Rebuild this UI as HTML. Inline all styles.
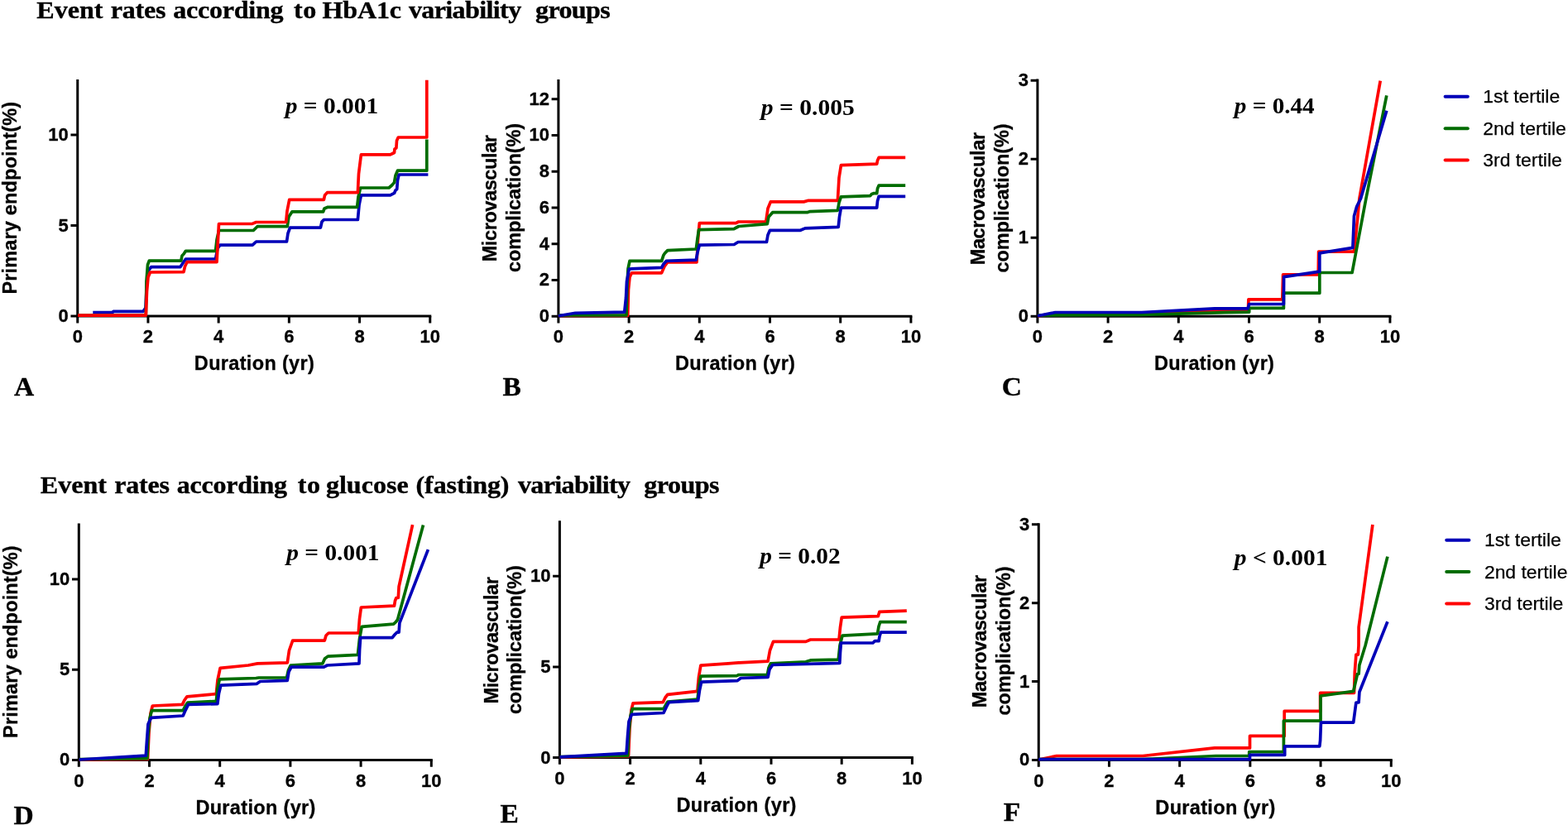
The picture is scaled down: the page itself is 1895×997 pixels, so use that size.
<!DOCTYPE html>
<html lang="en"><head><meta charset="utf-8"><title>Event rates according to variability groups</title>
<style>html,body{margin:0;padding:0;background:#fff;}body{width:1895px;height:997px;overflow:hidden;}svg{display:block;}</style>
</head><body>
<svg width="1895" height="997" viewBox="0 0 1895 997">
<rect width="1895" height="997" fill="#fff"/>
<text transform="scale(1.06,1)" y="21.5" font-family='"Liberation Serif", "Times New Roman", Times, serif' font-weight="700" font-size="30.3" fill="#000" stroke="#000" stroke-width="0.35"><tspan x="41.86" letter-spacing="-0.024">Event</tspan> <tspan x="126.23" letter-spacing="-0.271">rates</tspan> <tspan x="197.40" letter-spacing="-0.258">according</tspan> <tspan x="334.97" letter-spacing="0.557">to</tspan> <tspan x="367.52" letter-spacing="-0.221">HbA1c</tspan> <tspan x="465.94" letter-spacing="-0.604">variability</tspan> <tspan x="610.38" letter-spacing="-0.620">groups</tspan></text>
<text transform="scale(1.06,1)" y="595.8" font-family='"Liberation Serif", "Times New Roman", Times, serif' font-weight="700" font-size="30.3" fill="#000" stroke="#000" stroke-width="0.35"><tspan x="46.10" letter-spacing="-0.024">Event</tspan> <tspan x="130.48" letter-spacing="-0.271">rates</tspan> <tspan x="201.64" letter-spacing="-0.258">according</tspan> <tspan x="339.31" letter-spacing="0.604">to</tspan> <tspan x="371.61" letter-spacing="-0.002">glucose</tspan> <tspan x="474.13" letter-spacing="-0.149">(fasting)</tspan> <tspan x="590.47" letter-spacing="-0.623">variability</tspan> <tspan x="734.25" letter-spacing="-0.525">groups</tspan></text>
<g id="panel-A">
<path d="M93.75,96.00 L93.75,382.1 L521.25,382.1" fill="none" stroke="#000" stroke-width="3.0" stroke-linejoin="miter"/>
<path d="M85.45,382.10 L93.75,382.10 M85.45,272.60 L93.75,272.60 M85.45,163.10 L93.75,163.10 M93.75,382.1 L93.75,390.40 M178.95,382.1 L178.95,390.40 M264.15,382.1 L264.15,390.40 M349.35,382.1 L349.35,390.40 M434.55,382.1 L434.55,390.40 M519.75,382.1 L519.75,390.40" fill="none" stroke="#000" stroke-width="3.0"/>
<g font-family='"Liberation Sans", Arial, Helvetica, sans-serif' font-weight="700" font-size="22" fill="#000" stroke="#000" stroke-width="0.3">
<text x="82.75" y="389.10" text-anchor="end">0</text>
<text x="82.75" y="279.60" text-anchor="end">5</text>
<text x="82.75" y="170.10" text-anchor="end">10</text>
<text x="93.75" y="414.20" text-anchor="middle">0</text>
<text x="178.95" y="414.20" text-anchor="middle">2</text>
<text x="264.15" y="414.20" text-anchor="middle">4</text>
<text x="349.35" y="414.20" text-anchor="middle">6</text>
<text x="434.55" y="414.20" text-anchor="middle">8</text>
<text x="519.75" y="414.20" text-anchor="middle">10</text>
</g>
<g font-family='"Liberation Sans", Arial, Helvetica, sans-serif' font-weight="700" font-size="23.5" fill="#000" stroke="#000" stroke-width="0.3">
<text x="234.85" y="447.20" letter-spacing="0.329">Duration (yr)</text>
<text transform="translate(19.90,239.05) rotate(-90)"><tspan x="-116.50" y="0.00" letter-spacing="0.153">Primary endpoint(%)</tspan></text>
</g>
<g fill="none" stroke-linejoin="round" stroke-linecap="butt" stroke-width="3.7">
<path d="M112.3,377.5 L136.2,377.5 L137,376.4 L173,376.4 L176,372 L177.5,340 L179.5,327 L182.7,322.6 L218,322.6 L221,318 L224.4,313 L260.5,313 L263,300 L266,296.2 L305.2,296.1 L309.6,292 L346.5,292 L348,282 L350.5,275.1 L387.4,275.1 L389,268 L391.4,265.5 L432.4,265.5 L434,248 L436.4,235.8 L471.7,235.8 L476.5,233.4 L478,230 L479.7,228.6 L480.5,218 L482.1,211 L517.4,211" stroke="#0000b8"/>
<path d="M94,381 L176.3,381 L177,340 L178.5,320 L180.3,315.1 L218.8,315.1 L220,309 L222,307 L224.4,303.4 L260.5,303.4 L262,290 L264.5,278.5 L306.2,278.5 L311,273.7 L347.3,273.6 L349,262 L352.9,255.9 L390.6,255.9 L392,252 L396.3,250.3 L431.6,250.3 L433,238 L435.6,227 L470,227 L473.5,224 L476.5,220.6 L478,212 L480.5,206.2 L515.8,206.2 L515.8,168.4" stroke="#006c00"/>
<path d="M94,381.2 L176.3,381.2 L177.5,352 L179,335 L181.5,329 L222,328.7 L223.5,322 L226,316.7 L262,316.7 L263.2,295 L264.5,270.5 L305,270.4 L309.5,268.5 L345.7,268.5 L347,255 L349.7,241.4 L391.4,241.4 L392.5,236 L395.5,232.6 L432.4,232.6 L433.5,210 L436.4,186.9 L471.7,186.9 L476.5,184.5 L477,180 L478.9,178.9 L479.5,170 L481.3,166 L515.8,166 L515.8,96.8" stroke="#ff0000"/>
</g>
</g>
<g id="panel-B">
<path d="M674.9,96.00 L674.9,382.2 L1102.40,382.2" fill="none" stroke="#000" stroke-width="3.0" stroke-linejoin="miter"/>
<path d="M666.60,382.20 L674.9,382.20 M666.60,338.44 L674.9,338.44 M666.60,294.68 L674.9,294.68 M666.60,250.92 L674.9,250.92 M666.60,207.16 L674.9,207.16 M666.60,163.40 L674.9,163.40 M666.60,119.64 L674.9,119.64 M674.90,382.2 L674.90,390.50 M760.10,382.2 L760.10,390.50 M845.30,382.2 L845.30,390.50 M930.50,382.2 L930.50,390.50 M1015.70,382.2 L1015.70,390.50 M1100.90,382.2 L1100.90,390.50" fill="none" stroke="#000" stroke-width="3.0"/>
<g font-family='"Liberation Sans", Arial, Helvetica, sans-serif' font-weight="700" font-size="22" fill="#000" stroke="#000" stroke-width="0.3">
<text x="663.90" y="389.20" text-anchor="end">0</text>
<text x="663.90" y="345.44" text-anchor="end">2</text>
<text x="663.90" y="301.68" text-anchor="end">4</text>
<text x="663.90" y="257.92" text-anchor="end">6</text>
<text x="663.90" y="214.16" text-anchor="end">8</text>
<text x="663.90" y="170.40" text-anchor="end">10</text>
<text x="663.90" y="126.64" text-anchor="end">12</text>
<text x="674.90" y="414.30" text-anchor="middle">0</text>
<text x="760.10" y="414.30" text-anchor="middle">2</text>
<text x="845.30" y="414.30" text-anchor="middle">4</text>
<text x="930.50" y="414.30" text-anchor="middle">6</text>
<text x="1015.70" y="414.30" text-anchor="middle">8</text>
<text x="1100.90" y="414.30" text-anchor="middle">10</text>
</g>
<g font-family='"Liberation Sans", Arial, Helvetica, sans-serif' font-weight="700" font-size="23.5" fill="#000" stroke="#000" stroke-width="0.3">
<text x="816.00" y="447.30" letter-spacing="0.329">Duration (yr)</text>
<text transform="translate(600.30,239.10) rotate(-90)"><tspan x="-77.25" y="0.00" letter-spacing="-0.396">Microvascular</tspan> <tspan x="-89.90" y="28.70" letter-spacing="-0.104">complication(%)</tspan></text>
</g>
<g fill="none" stroke-linejoin="round" stroke-linecap="butt" stroke-width="3.7">
<path d="M674.8,381.5 L758.7,381.5 L759.5,350 L761,335 L763.5,329.8 L799.6,329.8 L803,322 L806.8,317 L842,317 L843.5,290 L845.3,269.7 L889.4,269.7 L892.6,268 L925.7,267.9 L928,252 L931.3,243.9 L971.4,243.9 L977.1,242.3 L1012.4,242.3 L1014,215 L1016.4,199.7 L1059.7,198.1 L1060.5,194 L1062.1,190.4 L1094.2,190.4" stroke="#ff0000"/>
<path d="M674.8,381 L757,381 L758,345 L759,325 L761,315.4 L799.6,315.4 L802,308.2 L803.5,306 L806.8,302.6 L841.3,301 L843,288 L844.5,277.7 L887,276.6 L890,275 L892.8,273.5 L927.3,270.6 L929,262 L933.7,256.7 L975.5,256.7 L979,255.6 L1012.4,254.3 L1014,245 L1016.4,237.9 L1051.7,236.6 L1053.5,234.5 L1055.7,233.7 L1059.7,233.7 L1060.5,228 L1062.1,224.1 L1094.2,224.1" stroke="#006c00"/>
<path d="M674.8,381.8 L695.3,378.3 L754.7,377.2 L756.5,360 L757.5,340 L760.3,325 L799.6,323.4 L802,319 L805.2,315.4 L841.3,314.1 L843,305 L845.3,296.2 L887.2,295.5 L892,292.5 L926.5,292.5 L928,284 L930.5,278.3 L967.4,278.3 L973,275.9 L1013.2,274.3 L1014.5,262 L1016.4,251.1 L1059.7,251.1 L1060.5,243 L1062.1,237.4 L1094.2,237.4" stroke="#0000b8"/>
</g>
</g>
<g id="panel-C">
<path d="M1253.9,95.50 L1253.9,382.15 L1681.40,382.15" fill="none" stroke="#000" stroke-width="3.0" stroke-linejoin="miter"/>
<path d="M1245.60,382.15 L1253.9,382.15 M1245.60,287.22 L1253.9,287.22 M1245.60,192.29 L1253.9,192.29 M1245.60,97.36 L1253.9,97.36 M1253.90,382.15 L1253.90,390.45 M1339.10,382.15 L1339.10,390.45 M1424.30,382.15 L1424.30,390.45 M1509.50,382.15 L1509.50,390.45 M1594.70,382.15 L1594.70,390.45 M1679.90,382.15 L1679.90,390.45" fill="none" stroke="#000" stroke-width="3.0"/>
<g font-family='"Liberation Sans", Arial, Helvetica, sans-serif' font-weight="700" font-size="22" fill="#000" stroke="#000" stroke-width="0.3">
<text x="1242.90" y="389.15" text-anchor="end">0</text>
<text x="1242.90" y="294.22" text-anchor="end">1</text>
<text x="1242.90" y="199.29" text-anchor="end">2</text>
<text x="1242.90" y="104.36" text-anchor="end">3</text>
<text x="1253.90" y="414.25" text-anchor="middle">0</text>
<text x="1339.10" y="414.25" text-anchor="middle">2</text>
<text x="1424.30" y="414.25" text-anchor="middle">4</text>
<text x="1509.50" y="414.25" text-anchor="middle">6</text>
<text x="1594.70" y="414.25" text-anchor="middle">8</text>
<text x="1679.90" y="414.25" text-anchor="middle">10</text>
</g>
<g font-family='"Liberation Sans", Arial, Helvetica, sans-serif' font-weight="700" font-size="23.5" fill="#000" stroke="#000" stroke-width="0.3">
<text x="1395.00" y="447.25" letter-spacing="0.329">Duration (yr)</text>
<text transform="translate(1190.20,239.57) rotate(-90)"><tspan x="-80.75" y="0.00" letter-spacing="-0.354">Macrovascular</tspan> <tspan x="-89.90" y="29.10" letter-spacing="-0.104">complication(%)</tspan></text>
</g>
<g fill="none" stroke-linejoin="round" stroke-linecap="butt" stroke-width="3.7">
<path d="M1254,381.8 L1275.3,378.5 L1379.6,378.5 L1467.8,374.8 L1508.5,374.8 L1508.9,361.9 L1549.8,361.9 L1550.6,331.8 L1593.2,331.8 L1593.6,304.2 L1636.5,304.2 L1640.5,265.7 L1642.9,240 L1668.2,97.6" stroke="#ff0000"/>
<path d="M1254,381 L1379.6,380.4 L1480,377.7 L1509.7,377.2 L1509.7,372.4 L1551.4,372.4 L1551.4,354.2 L1594.8,354.2 L1594.8,329.5 L1634.1,329.5 L1650.9,240 L1675.8,115.3" stroke="#006c00"/>
<path d="M1254,381.8 L1275.3,377.5 L1379.6,377.5 L1467.8,372.8 L1508.1,372.8 L1509.7,367.5 L1551.4,367.5 L1551.6,334.7 L1594.8,328.2 L1594.8,305.8 L1634.9,299.4 L1636.5,260.9 L1639.7,249.6 L1644.5,240 L1675.8,133.7" stroke="#0000b8"/>
</g>
</g>
<g id="panel-D">
<path d="M95.3,632.40 L95.3,918.4 L522.80,918.4" fill="none" stroke="#000" stroke-width="3.0" stroke-linejoin="miter"/>
<path d="M87.00,918.40 L95.3,918.40 M87.00,809.15 L95.3,809.15 M87.00,699.90 L95.3,699.90 M95.30,918.4 L95.30,926.70 M180.50,918.4 L180.50,926.70 M265.70,918.4 L265.70,926.70 M350.90,918.4 L350.90,926.70 M436.10,918.4 L436.10,926.70 M521.30,918.4 L521.30,926.70" fill="none" stroke="#000" stroke-width="3.0"/>
<g font-family='"Liberation Sans", Arial, Helvetica, sans-serif' font-weight="700" font-size="22" fill="#000" stroke="#000" stroke-width="0.3">
<text x="84.30" y="925.40" text-anchor="end">0</text>
<text x="84.30" y="816.15" text-anchor="end">5</text>
<text x="84.30" y="706.90" text-anchor="end">10</text>
<text x="95.30" y="950.50" text-anchor="middle">0</text>
<text x="180.50" y="950.50" text-anchor="middle">2</text>
<text x="265.70" y="950.50" text-anchor="middle">4</text>
<text x="350.90" y="950.50" text-anchor="middle">6</text>
<text x="436.10" y="950.50" text-anchor="middle">8</text>
<text x="521.30" y="950.50" text-anchor="middle">10</text>
</g>
<g font-family='"Liberation Sans", Arial, Helvetica, sans-serif' font-weight="700" font-size="23.5" fill="#000" stroke="#000" stroke-width="0.3">
<text x="236.40" y="983.50" letter-spacing="0.329">Duration (yr)</text>
<text transform="translate(21.30,775.40) rotate(-90)"><tspan x="-116.50" y="0.00" letter-spacing="0.153">Primary endpoint(%)</tspan></text>
</g>
<g fill="none" stroke-linejoin="round" stroke-linecap="butt" stroke-width="3.7">
<path d="M95.6,918 L178.5,917.5 L180,885 L182,862 L184.3,853 L220.4,851.4 L223,846 L226,841.8 L261.3,838.6 L263,822 L266.1,807.3 L300,804 L311.2,801.9 L347.3,800.8 L349.5,786 L353.7,774.1 L392.3,774.1 L394,768 L397.1,765 L433.2,765 L434.5,748 L436.4,734 L476.5,732.1 L477.5,726 L478.9,722.5 L481.3,722.5 L482.1,709 L498.6,634.1" stroke="#ff0000"/>
<path d="M95.6,917.5 L177.9,916.7 L179,890 L181,868 L183.5,858.6 L221.2,858.6 L224,853 L226.8,849 L261.3,847.4 L263,832 L265.3,820.9 L309.4,819.5 L312.8,819 L346.5,819 L348.5,810 L351.3,804 L389.8,801.9 L392.5,796 L396.3,793.1 L432.4,791.4 L434.5,772 L437.2,757.4 L475.7,754.2 L478,752 L480.5,749 L511.5,634.4" stroke="#006c00"/>
<path d="M95.6,918 L176.3,913.2 L177.5,895 L179,875 L182.7,867.4 L221.2,865 L224.4,857.8 L227.6,851.4 L262.9,850.6 L264.5,838 L266.9,828.1 L310.4,826.3 L314.4,823.5 L347.3,822.3 L349,812 L352.1,806.2 L391.4,806.2 L395.5,804 L434,801.9 L434.6,785 L435.6,770.6 L474.1,770.6 L477,767 L479.7,764.2 L482.1,764.2 L482.9,752.9 L517.4,664.1" stroke="#0000b8"/>
</g>
</g>
<g id="panel-E">
<path d="M676.4,629.30 L676.4,915.5 L1103.90,915.5" fill="none" stroke="#000" stroke-width="3.0" stroke-linejoin="miter"/>
<path d="M668.10,915.50 L676.4,915.50 M668.10,805.90 L676.4,805.90 M668.10,696.30 L676.4,696.30 M676.40,915.5 L676.40,923.80 M761.60,915.5 L761.60,923.80 M846.80,915.5 L846.80,923.80 M932.00,915.5 L932.00,923.80 M1017.20,915.5 L1017.20,923.80 M1102.40,915.5 L1102.40,923.80" fill="none" stroke="#000" stroke-width="3.0"/>
<g font-family='"Liberation Sans", Arial, Helvetica, sans-serif' font-weight="700" font-size="22" fill="#000" stroke="#000" stroke-width="0.3">
<text x="665.40" y="922.50" text-anchor="end">0</text>
<text x="665.40" y="812.90" text-anchor="end">5</text>
<text x="665.40" y="703.30" text-anchor="end">10</text>
<text x="676.40" y="947.60" text-anchor="middle">0</text>
<text x="761.60" y="947.60" text-anchor="middle">2</text>
<text x="846.80" y="947.60" text-anchor="middle">4</text>
<text x="932.00" y="947.60" text-anchor="middle">6</text>
<text x="1017.20" y="947.60" text-anchor="middle">8</text>
<text x="1102.40" y="947.60" text-anchor="middle">10</text>
</g>
<g font-family='"Liberation Sans", Arial, Helvetica, sans-serif' font-weight="700" font-size="23.5" fill="#000" stroke="#000" stroke-width="0.3">
<text x="817.50" y="980.60" letter-spacing="0.329">Duration (yr)</text>
<text transform="translate(601.50,773.20) rotate(-90)"><tspan x="-77.25" y="0.00" letter-spacing="-0.396">Microvascular</tspan> <tspan x="-89.90" y="28.30" letter-spacing="-0.104">complication(%)</tspan></text>
</g>
<g fill="none" stroke-linejoin="round" stroke-linecap="butt" stroke-width="3.7">
<path d="M676.5,914.8 L759.5,914 L761,880 L763,858 L765.1,849.8 L801.2,848.7 L804,843 L806.8,839.4 L842.9,835.3 L844.5,818 L846.9,804.1 L880,801.9 L892.6,800.9 L893.6,800.8 L928.1,799.2 L930.5,786 L934.5,775.4 L973.9,775.4 L979.5,773 L1014,773 L1015.5,758 L1017.2,746.2 L1061.3,744.6 L1062.9,739.3 L1095.8,738.2" stroke="#ff0000"/>
<path d="M676.5,914.5 L758.7,913.5 L760,885 L762,865 L764.3,856.7 L802,856.7 L805,851 L807,848 L843,845 L845,828 L846.9,817.2 L890.4,816.6 L892.8,815.5 L927.3,815.5 L929,807 L931.3,801.9 L973.9,799.8 L979.5,797.9 L1013.2,797.1 L1015,780 L1018,768.2 L1060.5,765.8 L1062,757 L1063.7,751.7 L1095.8,751.7" stroke="#006c00"/>
<path d="M676.5,914.8 L757.1,910.3 L758.5,890 L760,872 L763.5,863.4 L802,861.5 L805.2,854.6 L808.4,848.7 L843.7,846.6 L845.5,834 L847.7,824.1 L891.2,822.6 L895.2,819.5 L928.1,818.4 L930,809 L933.7,803.5 L1014.8,801.4 L1015.5,788 L1016.4,777 L1054.9,777 L1057.3,774.6 L1062.1,774.6 L1063,769 L1064.5,764.2 L1095.8,764.2" stroke="#0000b8"/>
</g>
</g>
<g id="panel-F">
<path d="M1255.25,632.30 L1255.25,918.4 L1682.75,918.4" fill="none" stroke="#000" stroke-width="3.0" stroke-linejoin="miter"/>
<path d="M1246.95,918.40 L1255.25,918.40 M1246.95,823.55 L1255.25,823.55 M1246.95,728.70 L1255.25,728.70 M1246.95,633.85 L1255.25,633.85 M1255.25,918.4 L1255.25,926.70 M1340.45,918.4 L1340.45,926.70 M1425.65,918.4 L1425.65,926.70 M1510.85,918.4 L1510.85,926.70 M1596.05,918.4 L1596.05,926.70 M1681.25,918.4 L1681.25,926.70" fill="none" stroke="#000" stroke-width="3.0"/>
<g font-family='"Liberation Sans", Arial, Helvetica, sans-serif' font-weight="700" font-size="22" fill="#000" stroke="#000" stroke-width="0.3">
<text x="1244.25" y="925.40" text-anchor="end">0</text>
<text x="1244.25" y="830.55" text-anchor="end">1</text>
<text x="1244.25" y="735.70" text-anchor="end">2</text>
<text x="1244.25" y="640.85" text-anchor="end">3</text>
<text x="1255.25" y="950.50" text-anchor="middle">0</text>
<text x="1340.45" y="950.50" text-anchor="middle">2</text>
<text x="1425.65" y="950.50" text-anchor="middle">4</text>
<text x="1510.85" y="950.50" text-anchor="middle">6</text>
<text x="1596.05" y="950.50" text-anchor="middle">8</text>
<text x="1681.25" y="950.50" text-anchor="middle">10</text>
</g>
<g font-family='"Liberation Sans", Arial, Helvetica, sans-serif' font-weight="700" font-size="23.5" fill="#000" stroke="#000" stroke-width="0.3">
<text x="1396.35" y="983.50" letter-spacing="0.329">Duration (yr)</text>
<text transform="translate(1192.00,774.50) rotate(-90)"><tspan x="-80.75" y="0.00" letter-spacing="-0.354">Macrovascular</tspan> <tspan x="-89.90" y="28.90" letter-spacing="-0.104">complication(%)</tspan></text>
</g>
<g fill="none" stroke-linejoin="round" stroke-linecap="butt" stroke-width="3.7">
<path d="M1255.2,918 L1276.9,913.5 L1381.2,913.5 L1467.8,903.9 L1510.5,903.9 L1510.5,889.4 L1552.2,889.4 L1552.2,859.4 L1595.6,859.4 L1595.6,837.4 L1636.5,837.4 L1637.3,812.1 L1638.9,791.2 L1641.3,791.2 L1642,780 L1642.1,758 L1658.9,634.1" stroke="#ff0000"/>
<path d="M1255.2,917.5 L1381.2,917.5 L1469.4,913.5 L1509.7,913.5 L1509.7,908.7 L1551.4,908.7 L1551.4,871.1 L1596,871.1 L1596,841 L1635.7,835.4 L1640.5,814.5 L1642.1,814.5 L1642.8,804 L1650.1,780 L1676.9,672.6" stroke="#006c00"/>
<path d="M1255.2,917.7 L1510.5,917.7 L1510.5,912.4 L1552.7,912.4 L1552.7,901.9 L1594.8,901.9 L1595.6,894.7 L1596.4,873.1 L1635.7,873.1 L1638.9,849 L1642.1,849 L1642.9,836.2 L1676.9,751.2" stroke="#0000b8"/>
</g>
</g>
<g font-family='"Liberation Serif", "Times New Roman", Times, serif' font-weight="700" font-size="27.3" fill="#000">
<text transform="translate(344.66,137.0) scale(1.0797,1)"><tspan font-style="italic">p</tspan> = 0.001</text>
<text transform="translate(919.86,138.6) scale(1.0822,1)"><tspan font-style="italic">p</tspan> = 0.005</text>
<text transform="translate(1491.84,137.0) scale(1.0688,1)"><tspan font-style="italic">p</tspan> = 0.44</text>
<text transform="translate(346.25,677.0) scale(1.0768,1)"><tspan font-style="italic">p</tspan> = 0.001</text>
<text transform="translate(918.25,680.6) scale(1.0743,1)"><tspan font-style="italic">p</tspan> = 0.02</text>
<text transform="translate(1491.86,683.4) scale(1.0797,1)"><tspan font-style="italic">p</tspan> &lt; 0.001</text>
</g>
<g font-family='"Liberation Serif", "Times New Roman", Times, serif' font-weight="700" font-size="32.2" fill="#000" stroke="#000" stroke-width="0.35">
<text transform="translate(16.94,477.9) scale(1.04,1)">A</text>
<text transform="translate(607.58,477.9) scale(1.04,1)">B</text>
<text transform="translate(1210.84,478.0) scale(1.04,1)">C</text>
<text transform="translate(16.48,995.7) scale(1.04,1)">D</text>
<text transform="translate(604.48,994.3) scale(1.04,1)">E</text>
<text transform="translate(1212.78,991.6) scale(1.04,1)">F</text>
</g>
<g transform="translate(0,0)">
<line x1="1746.6" y1="116.8" x2="1773.8" y2="116.8" stroke="#0000b8" stroke-width="4.0" stroke-linecap="round"/>
<text x="1792.3" y="124.3" font-family='"Liberation Sans", Arial, Helvetica, sans-serif' font-size="22.9" fill="#000" stroke="#000" stroke-width="0.25">1st tertile</text>
<line x1="1746.6" y1="155.2" x2="1773.8" y2="155.2" stroke="#006c00" stroke-width="4.0" stroke-linecap="round"/>
<text x="1792.3" y="162.7" font-family='"Liberation Sans", Arial, Helvetica, sans-serif' font-size="22.9" fill="#000" stroke="#000" stroke-width="0.25">2nd tertile</text>
<line x1="1746.6" y1="193.6" x2="1773.8" y2="193.6" stroke="#ff0000" stroke-width="4.0" stroke-linecap="round"/>
<text x="1792.3" y="201.0" font-family='"Liberation Sans", Arial, Helvetica, sans-serif' font-size="22.9" fill="#000" stroke="#000" stroke-width="0.25">3rd tertile</text>
</g>
<g transform="translate(1.6,535.9)">
<line x1="1746.6" y1="116.8" x2="1773.8" y2="116.8" stroke="#0000b8" stroke-width="4.0" stroke-linecap="round"/>
<text x="1792.3" y="124.3" font-family='"Liberation Sans", Arial, Helvetica, sans-serif' font-size="22.9" fill="#000" stroke="#000" stroke-width="0.25">1st tertile</text>
<line x1="1746.6" y1="155.2" x2="1773.8" y2="155.2" stroke="#006c00" stroke-width="4.0" stroke-linecap="round"/>
<text x="1792.3" y="162.7" font-family='"Liberation Sans", Arial, Helvetica, sans-serif' font-size="22.9" fill="#000" stroke="#000" stroke-width="0.25">2nd tertile</text>
<line x1="1746.6" y1="193.6" x2="1773.8" y2="193.6" stroke="#ff0000" stroke-width="4.0" stroke-linecap="round"/>
<text x="1792.3" y="201.0" font-family='"Liberation Sans", Arial, Helvetica, sans-serif' font-size="22.9" fill="#000" stroke="#000" stroke-width="0.25">3rd tertile</text>
</g>
</svg>
</body></html>
